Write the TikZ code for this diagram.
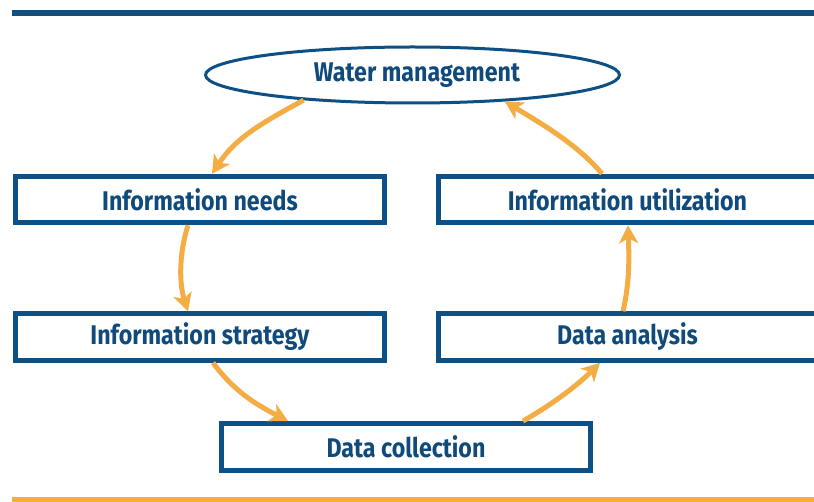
\documentclass[tikz,border=0pt]{standalone}
\usepackage{fontspec}
\setmainfont{Fira Sans}[FakeStretch=0.86]
\usetikzlibrary{arrows.meta,shapes.geometric,calc}
\definecolor{dblue}{RGB}{12,80,133}
\definecolor{tblue}{RGB}{16,74,122}
\definecolor{orng}{RGB}{243,173,67}
\newcommand\diaglabel{\bfseries\fontsize{27}{32}\selectfont}
\begin{document}
\begin{tikzpicture}[x=1pt,y=-1pt,
  box/.style={draw=dblue,line width=5pt,minimum width=369pt,minimum height=46.5pt,inner sep=0pt,text=tblue,font=\diaglabel},
  oval/.style={ellipse,draw=dblue,line width=3pt,minimum width=414pt,minimum height=56pt,inner sep=0pt,text=tblue,font=\diaglabel},
  arr/.style={draw=orng,line width=5pt,-{Stealth[length=18pt,width=19pt,inset=5pt]}}]
\useasboundingbox (0,0) rectangle (814,502);
\clip (0,0) rectangle (814,502);
\fill[white] (0,0) rectangle (814,502);
\fill[dblue] (12,10) rectangle (820,16.5);
\fill[orng] (12,497) rectangle (820,506);

\node[oval] (wm) at (412.5,75) {\hspace*{9pt}Water management};
\node[box] (needs) at (200,199.5) {Information needs};
\node[box] (strat) at (200,337) {Information strategy};
\node[box,minimum width=378pt] (util) at (627.5,199.5) {Information utilization};
\node[box,minimum width=378pt] (ana) at (627.5,337) {Data analysis};
\node[box,minimum height=47pt] (coll) at (406,447) {Data collection};

\draw[arr] (wm.193.5) .. controls +(-50,27) and +(22,-33) .. ([xshift=12pt]needs.north);
\draw[arr] ([xshift=-12pt]needs.south) .. controls +(-9,28) and +(-9,-28) .. ([xshift=-12pt]strat.north);
\draw[arr] ([xshift=13pt]strat.south) .. controls +(20,27) and +(-35,-18) .. ([xshift=-118pt]coll.north);
\draw[arr] ([xshift=117pt]coll.north) .. controls +(30,-17) and +(-22,22) .. ([xshift=-27.5pt]ana.south);
\draw[arr] ([xshift=-4.5pt]ana.north) .. controls +(7,-30) and +(1,30) .. ([xshift=0.5pt]util.south);
\draw[arr] ([xshift=-25.5pt]util.north) .. controls +(-25,-30) and +(33,20) .. (wm.344);
\end{tikzpicture}
\end{document}
